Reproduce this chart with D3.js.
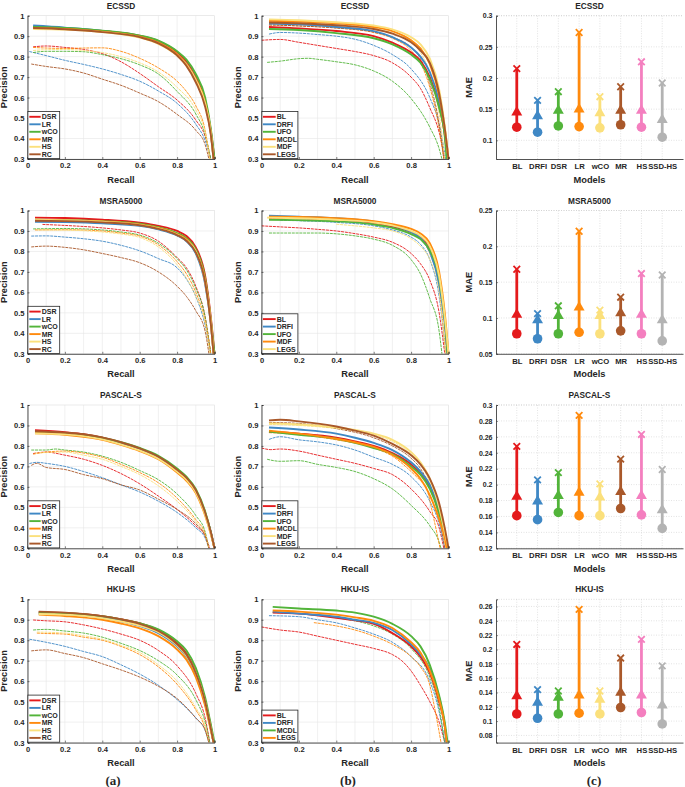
<!DOCTYPE html>
<html><head><meta charset="utf-8">
<script src="https://cdn.jsdelivr.net/npm/d3@7"></script>
<style>body{margin:0;background:#fff}svg{display:block}text{font-family:"Liberation Sans",Arial,sans-serif;font-weight:bold;fill:#262626}</style>
</head><body><svg id="c" width="685" height="787"></svg>
<script>
// ---------------- DATA ----------------
const recallTicks = [0, 0.2, 0.4, 0.6, 0.8, 1];
const precisionTicks = [0.3, 0.4, 0.5, 0.6, 0.7, 0.8, 0.9, 1];
const datasets = ["ECSSD", "MSRA5000", "PASCAL-S", "HKU-IS"];
const legendA = ["DSR", "LR", "wCO", "MR", "HS", "RC"];
const legendB1 = ["BL", "DRFI", "UFO", "MCDL", "MDF", "LEGS"];
const legendB2 = ["BL", "DRFI", "UFO", "MDF", "LEGS"];
const legendB3 = ["BL", "DRFI", "UFO", "MCDL", "MDF", "LEGS"];
const legendB4 = ["BL", "DRFI", "MCDL", "LEGS"];
const models = ["BL", "DRFI", "DSR", "LR", "wCO", "MR", "HS", "SSD-HS"];

// PR curves: [method, [[recall, precision], ...]]  (thick = refined, thin = original)
const ecssdA_thick = [
 ["DSR",[[0.03,0.945],[0.2,0.938],[0.4,0.925],[0.6,0.902],[0.7,0.876],[0.8,0.822],[0.85,0.775],[0.9,0.70],[0.95,0.585],[0.98,0.44],[1.0,0.3]]],
 ["LR",[[0.03,0.952],[0.2,0.942],[0.4,0.926],[0.6,0.898],[0.7,0.868],[0.8,0.81],[0.85,0.765],[0.9,0.69],[0.95,0.57],[0.98,0.43],[0.995,0.3]]],
 ["wCO",[[0.03,0.945],[0.2,0.94],[0.4,0.927],[0.6,0.903],[0.7,0.878],[0.8,0.826],[0.85,0.785],[0.9,0.715],[0.95,0.6],[0.98,0.45],[1.0,0.3]]],
 ["MR",[[0.03,0.94],[0.2,0.935],[0.4,0.922],[0.6,0.897],[0.7,0.868],[0.8,0.812],[0.85,0.765],[0.9,0.69],[0.95,0.575],[0.98,0.43],[0.995,0.3]]],
 ["HS",[[0.03,0.935],[0.2,0.932],[0.4,0.92],[0.6,0.893],[0.7,0.862],[0.8,0.805],[0.85,0.76],[0.9,0.685],[0.95,0.57],[0.98,0.43],[0.995,0.3]]],
 ["RC",[[0.03,0.94],[0.2,0.934],[0.4,0.92],[0.6,0.895],[0.7,0.865],[0.8,0.806],[0.85,0.755],[0.9,0.675],[0.95,0.555],[0.98,0.42],[0.995,0.3]]]
];
const ecssdA_thin = [
 ["DSR",[[0.03,0.848],[0.1,0.852],[0.2,0.845],[0.3,0.835],[0.4,0.815],[0.5,0.775],[0.6,0.718],[0.7,0.653],[0.8,0.588],[0.9,0.49],[0.95,0.41],[0.98,0.3]]],
 ["LR",[[0.01,0.825],[0.1,0.805],[0.2,0.782],[0.3,0.762],[0.4,0.74],[0.5,0.713],[0.6,0.68],[0.7,0.632],[0.8,0.572],[0.9,0.47],[0.95,0.39],[0.98,0.3]]],
 ["wCO",[[0.03,0.82],[0.1,0.826],[0.2,0.826],[0.3,0.824],[0.4,0.81],[0.5,0.79],[0.6,0.76],[0.7,0.715],[0.8,0.63],[0.9,0.52],[0.95,0.42],[0.98,0.3]]],
 ["MR",[[0.03,0.845],[0.1,0.842],[0.2,0.84],[0.3,0.842],[0.4,0.843],[0.5,0.826],[0.6,0.792],[0.7,0.745],[0.8,0.68],[0.85,0.63],[0.9,0.56],[0.95,0.44],[0.975,0.3]]],
 ["HS",[[0.03,0.83],[0.1,0.834],[0.2,0.835],[0.3,0.83],[0.4,0.82],[0.5,0.8],[0.6,0.77],[0.7,0.725],[0.8,0.65],[0.9,0.54],[0.95,0.43],[0.975,0.3]]],
 ["RC",[[0.02,0.764],[0.1,0.752],[0.2,0.74],[0.3,0.72],[0.4,0.69],[0.5,0.66],[0.6,0.622],[0.7,0.58],[0.8,0.518],[0.9,0.44],[0.95,0.37],[0.97,0.3]]]
];
const ecssdB_thick = [
 ["BL",[[0.04,0.945],[0.2,0.938],[0.4,0.925],[0.6,0.9],[0.7,0.868],[0.8,0.82],[0.85,0.78],[0.9,0.70],[0.95,0.56],[0.98,0.42],[0.995,0.3]]],
 ["DRFI",[[0.04,0.962],[0.2,0.958],[0.4,0.945],[0.6,0.925],[0.7,0.895],[0.8,0.845],[0.85,0.8],[0.9,0.725],[0.95,0.58],[0.98,0.43],[0.995,0.3]]],
 ["UFO",[[0.04,0.935],[0.2,0.93],[0.4,0.915],[0.6,0.89],[0.7,0.86],[0.8,0.81],[0.85,0.77],[0.9,0.69],[0.95,0.55],[0.98,0.41],[0.99,0.3]]],
 ["MCDL",[[0.04,0.975],[0.2,0.972],[0.4,0.963],[0.6,0.945],[0.7,0.925],[0.8,0.88],[0.85,0.84],[0.9,0.765],[0.95,0.61],[0.98,0.45],[1.0,0.3]]],
 ["MDF",[[0.04,0.982],[0.2,0.978],[0.4,0.968],[0.6,0.952],[0.7,0.933],[0.8,0.895],[0.85,0.86],[0.9,0.79],[0.95,0.64],[0.98,0.46],[1.0,0.3]]],
 ["LEGS",[[0.04,0.967],[0.2,0.963],[0.4,0.953],[0.6,0.935],[0.7,0.912],[0.8,0.87],[0.85,0.83],[0.9,0.77],[0.95,0.62],[0.98,0.45],[1.0,0.3]]]
];
const ecssdB_thin = [
 ["BL",[[0,0.88],[0.1,0.884],[0.2,0.87],[0.3,0.855],[0.4,0.84],[0.5,0.825],[0.6,0.805],[0.7,0.77],[0.8,0.70],[0.85,0.645],[0.9,0.55],[0.95,0.43],[0.98,0.3]]],
 ["DRFI",[[0.04,0.91],[0.1,0.918],[0.2,0.915],[0.3,0.908],[0.4,0.9],[0.5,0.885],[0.6,0.855],[0.7,0.81],[0.8,0.74],[0.9,0.60],[0.95,0.47],[0.985,0.3]]],
 ["UFO",[[0.03,0.772],[0.1,0.778],[0.2,0.79],[0.25,0.792],[0.3,0.787],[0.4,0.775],[0.5,0.76],[0.6,0.73],[0.7,0.68],[0.8,0.595],[0.9,0.455],[0.95,0.35],[0.965,0.3]]],
 ["MCDL",[[0.04,0.955],[0.2,0.95],[0.4,0.94],[0.6,0.918],[0.7,0.89],[0.8,0.83],[0.85,0.77],[0.9,0.65],[0.95,0.45],[0.975,0.3]]],
 ["MDF",[[0.04,0.97],[0.2,0.965],[0.4,0.955],[0.6,0.94],[0.7,0.915],[0.8,0.87],[0.85,0.82],[0.9,0.72],[0.95,0.52],[0.98,0.3]]],
 ["LEGS",[[0.04,0.955],[0.2,0.95],[0.4,0.94],[0.6,0.92],[0.7,0.895],[0.8,0.845],[0.85,0.79],[0.9,0.67],[0.95,0.47],[0.975,0.3]]]
];
const msraA_thick = [
 ["DSR",[[0.04,0.965],[0.2,0.963],[0.4,0.955],[0.6,0.94],[0.7,0.925],[0.8,0.9],[0.85,0.875],[0.9,0.82],[0.95,0.68],[0.98,0.48],[1.0,0.3]]],
 ["LR",[[0.04,0.945],[0.2,0.943],[0.4,0.937],[0.6,0.925],[0.7,0.908],[0.8,0.878],[0.85,0.85],[0.9,0.79],[0.95,0.64],[0.98,0.45],[0.995,0.3]]],
 ["wCO",[[0.04,0.955],[0.2,0.953],[0.4,0.948],[0.6,0.935],[0.7,0.918],[0.8,0.89],[0.85,0.865],[0.9,0.81],[0.95,0.67],[0.98,0.47],[1.0,0.3]]],
 ["MR",[[0.04,0.955],[0.2,0.952],[0.4,0.946],[0.6,0.932],[0.7,0.915],[0.8,0.885],[0.85,0.86],[0.9,0.8],[0.95,0.66],[0.98,0.46],[0.995,0.3]]],
 ["HS",[[0.04,0.955],[0.2,0.952],[0.4,0.945],[0.6,0.93],[0.7,0.912],[0.8,0.882],[0.85,0.855],[0.9,0.8],[0.95,0.65],[0.98,0.46],[0.995,0.3]]],
 ["RC",[[0.04,0.95],[0.2,0.948],[0.4,0.942],[0.6,0.928],[0.7,0.91],[0.8,0.88],[0.85,0.852],[0.9,0.795],[0.95,0.65],[0.98,0.45],[0.995,0.3]]]
];
const msraA_thin = [
 ["DSR",[[0.08,0.932],[0.2,0.927],[0.4,0.915],[0.5,0.905],[0.6,0.89],[0.7,0.85],[0.8,0.77],[0.85,0.72],[0.9,0.63],[0.95,0.48],[0.98,0.3]]],
 ["LR",[[0.02,0.875],[0.1,0.876],[0.2,0.87],[0.3,0.862],[0.4,0.85],[0.5,0.83],[0.6,0.803],[0.7,0.765],[0.8,0.72],[0.85,0.665],[0.9,0.58],[0.95,0.44],[0.98,0.3]]],
 ["wCO",[[0.03,0.91],[0.2,0.912],[0.4,0.905],[0.5,0.895],[0.6,0.88],[0.7,0.84],[0.8,0.765],[0.85,0.71],[0.9,0.62],[0.95,0.48],[0.98,0.3]]],
 ["MR",[[0.04,0.905],[0.2,0.906],[0.4,0.9],[0.5,0.89],[0.6,0.875],[0.7,0.832],[0.8,0.75],[0.85,0.69],[0.9,0.6],[0.95,0.46],[0.98,0.3]]],
 ["HS",[[0.05,0.905],[0.2,0.904],[0.4,0.895],[0.5,0.885],[0.6,0.868],[0.7,0.822],[0.8,0.735],[0.85,0.67],[0.9,0.58],[0.95,0.45],[0.975,0.3]]],
 ["RC",[[0.02,0.822],[0.1,0.826],[0.2,0.82],[0.3,0.808],[0.4,0.79],[0.5,0.77],[0.6,0.745],[0.7,0.70],[0.8,0.63],[0.85,0.58],[0.9,0.51],[0.95,0.41],[0.97,0.3]]]
];
const msraB_thick = [
 ["BL",[[0.04,0.965],[0.2,0.962],[0.4,0.955],[0.6,0.94],[0.7,0.922],[0.8,0.895],[0.85,0.87],[0.9,0.815],[0.95,0.67],[0.98,0.47],[0.995,0.3]]],
 ["DRFI",[[0.04,0.975],[0.2,0.97],[0.4,0.962],[0.6,0.945],[0.7,0.928],[0.8,0.895],[0.85,0.865],[0.9,0.80],[0.95,0.64],[0.98,0.45],[0.995,0.3]]],
 ["UFO",[[0.04,0.955],[0.2,0.953],[0.4,0.947],[0.6,0.932],[0.7,0.915],[0.8,0.885],[0.85,0.86],[0.9,0.805],[0.95,0.67],[0.98,0.47],[0.995,0.3]]],
 ["MDF",[[0.04,0.97],[0.2,0.968],[0.4,0.962],[0.6,0.948],[0.7,0.933],[0.8,0.91],[0.85,0.888],[0.9,0.84],[0.95,0.7],[0.98,0.5],[1.0,0.3]]],
 ["LEGS",[[0.03,0.965],[0.2,0.962],[0.4,0.955],[0.6,0.942],[0.7,0.927],[0.8,0.9],[0.85,0.877],[0.9,0.825],[0.95,0.68],[0.98,0.48],[1.0,0.3]]]
];
const msraB_thin = [
 ["BL",[[0,0.925],[0.1,0.92],[0.2,0.915],[0.3,0.908],[0.4,0.9],[0.5,0.887],[0.6,0.87],[0.7,0.845],[0.8,0.79],[0.85,0.74],[0.9,0.66],[0.95,0.5],[0.98,0.3]]],
 ["DRFI",[[0.1,0.952],[0.2,0.95],[0.4,0.942],[0.6,0.925],[0.7,0.905],[0.8,0.87],[0.85,0.835],[0.9,0.76],[0.95,0.58],[0.985,0.3]]],
 ["UFO",[[0.04,0.89],[0.2,0.89],[0.3,0.89],[0.4,0.886],[0.5,0.876],[0.6,0.86],[0.7,0.83],[0.8,0.76],[0.85,0.69],[0.9,0.57],[0.95,0.41],[0.965,0.3]]],
 ["MDF",[[0.04,0.962],[0.2,0.96],[0.4,0.953],[0.6,0.938],[0.7,0.92],[0.8,0.89],[0.85,0.862],[0.9,0.79],[0.95,0.62],[0.985,0.3]]],
 ["LEGS",[[0.4,0.933],[0.5,0.925],[0.6,0.915],[0.7,0.9],[0.8,0.862],[0.85,0.825],[0.9,0.76],[0.95,0.6],[0.985,0.3]]]
];
const pascalA_thick = [
 ["DSR",[[0.04,0.877],[0.2,0.867],[0.3,0.858],[0.4,0.84],[0.5,0.815],[0.6,0.785],[0.7,0.745],[0.8,0.68],[0.85,0.64],[0.9,0.58],[0.95,0.47],[0.98,0.38],[1.0,0.3]]],
 ["LR",[[0.04,0.87],[0.2,0.862],[0.3,0.853],[0.4,0.836],[0.5,0.812],[0.6,0.782],[0.7,0.743],[0.8,0.68],[0.85,0.64],[0.9,0.58],[0.95,0.47],[0.98,0.38],[1.0,0.3]]],
 ["wCO",[[0.04,0.868],[0.2,0.862],[0.3,0.855],[0.4,0.84],[0.5,0.818],[0.6,0.79],[0.7,0.752],[0.8,0.69],[0.85,0.65],[0.9,0.59],[0.95,0.48],[0.98,0.38],[1.0,0.3]]],
 ["MR",[[0.04,0.862],[0.2,0.855],[0.3,0.845],[0.4,0.83],[0.5,0.805],[0.6,0.775],[0.7,0.735],[0.8,0.67],[0.85,0.63],[0.9,0.57],[0.95,0.46],[0.98,0.37],[1.0,0.3]]],
 ["HS",[[0.04,0.862],[0.2,0.857],[0.3,0.848],[0.4,0.832],[0.5,0.808],[0.6,0.778],[0.7,0.738],[0.8,0.675],[0.85,0.635],[0.9,0.575],[0.95,0.465],[0.98,0.37],[1.0,0.3]]],
 ["RC",[[0.04,0.872],[0.2,0.865],[0.3,0.857],[0.4,0.842],[0.5,0.818],[0.6,0.788],[0.7,0.748],[0.8,0.684],[0.85,0.645],[0.9,0.585],[0.95,0.475],[0.98,0.38],[1.0,0.3]]]
];
const pascalA_thin = [
 ["DSR",[[0.03,0.763],[0.1,0.77],[0.2,0.755],[0.3,0.735],[0.4,0.705],[0.5,0.665],[0.6,0.615],[0.7,0.555],[0.8,0.49],[0.9,0.41],[0.95,0.36],[0.975,0.3]]],
 ["LR",[[0.01,0.714],[0.05,0.72],[0.1,0.715],[0.2,0.70],[0.3,0.675],[0.4,0.645],[0.5,0.61],[0.6,0.575],[0.7,0.53],[0.8,0.475],[0.9,0.40],[0.95,0.35],[0.97,0.3]]],
 ["wCO",[[0.02,0.78],[0.1,0.78],[0.15,0.785],[0.2,0.78],[0.3,0.77],[0.4,0.75],[0.5,0.72],[0.6,0.68],[0.7,0.635],[0.8,0.565],[0.9,0.46],[0.95,0.38],[0.97,0.3]]],
 ["MR",[[0.03,0.76],[0.1,0.77],[0.2,0.775],[0.3,0.765],[0.4,0.745],[0.5,0.71],[0.6,0.67],[0.7,0.62],[0.8,0.545],[0.9,0.44],[0.95,0.37],[0.97,0.3]]],
 ["HS",[[0.04,0.765],[0.1,0.768],[0.2,0.77],[0.3,0.755],[0.4,0.735],[0.5,0.70],[0.6,0.66],[0.7,0.605],[0.8,0.53],[0.9,0.43],[0.95,0.36],[0.97,0.3]]],
 ["RC",[[0.02,0.705],[0.05,0.715],[0.1,0.695],[0.2,0.685],[0.3,0.66],[0.4,0.64],[0.5,0.61],[0.6,0.585],[0.7,0.54],[0.8,0.49],[0.9,0.42],[0.95,0.36],[0.97,0.3]]]
];
const pascalB_thick = [
 ["BL",[[0.04,0.87],[0.2,0.86],[0.4,0.84],[0.5,0.822],[0.6,0.80],[0.7,0.765],[0.8,0.71],[0.85,0.665],[0.9,0.60],[0.95,0.48],[0.98,0.38],[0.995,0.3]]],
 ["DRFI",[[0.04,0.89],[0.2,0.88],[0.4,0.86],[0.5,0.84],[0.6,0.815],[0.7,0.78],[0.8,0.72],[0.85,0.675],[0.9,0.61],[0.95,0.49],[0.98,0.38],[0.995,0.3]]],
 ["UFO",[[0.04,0.87],[0.2,0.855],[0.4,0.835],[0.5,0.815],[0.6,0.79],[0.7,0.76],[0.8,0.70],[0.85,0.66],[0.9,0.59],[0.95,0.47],[0.98,0.37],[0.995,0.3]]],
 ["MCDL",[[0.04,0.875],[0.2,0.86],[0.4,0.835],[0.5,0.818],[0.6,0.795],[0.7,0.757],[0.8,0.69],[0.85,0.64],[0.9,0.56],[0.95,0.44],[0.98,0.35],[0.99,0.3]]],
 ["MDF",[[0.04,0.91],[0.2,0.905],[0.4,0.89],[0.5,0.878],[0.6,0.86],[0.7,0.83],[0.8,0.77],[0.85,0.72],[0.9,0.64],[0.95,0.5],[0.98,0.38],[1.0,0.3]]],
 ["LEGS",[[0.04,0.925],[0.1,0.928],[0.2,0.92],[0.4,0.895],[0.5,0.875],[0.6,0.85],[0.7,0.81],[0.8,0.755],[0.85,0.71],[0.9,0.64],[0.95,0.52],[0.98,0.4],[1.0,0.3]]]
];
const pascalB_thin = [
 ["BL",[[0,0.79],[0.05,0.782],[0.1,0.785],[0.2,0.775],[0.3,0.755],[0.4,0.735],[0.5,0.715],[0.6,0.69],[0.7,0.66],[0.8,0.59],[0.9,0.48],[0.95,0.40],[0.975,0.3]]],
 ["DRFI",[[0.04,0.832],[0.1,0.845],[0.2,0.83],[0.3,0.82],[0.4,0.805],[0.5,0.78],[0.6,0.745],[0.7,0.71],[0.8,0.65],[0.9,0.53],[0.95,0.42],[0.98,0.3]]],
 ["UFO",[[0.03,0.735],[0.1,0.725],[0.2,0.728],[0.3,0.71],[0.4,0.695],[0.5,0.675],[0.6,0.64],[0.7,0.59],[0.8,0.51],[0.9,0.41],[0.95,0.33],[0.96,0.3]]],
 ["MCDL",[[0.04,0.865],[0.2,0.855],[0.4,0.83],[0.6,0.79],[0.7,0.75],[0.8,0.675],[0.85,0.63],[0.88,0.6],[0.92,0.45],[0.955,0.3]]],
 ["MDF",[[0.04,0.905],[0.2,0.9],[0.4,0.885],[0.6,0.855],[0.7,0.822],[0.8,0.76],[0.85,0.71],[0.9,0.62],[0.95,0.47],[0.985,0.3]]],
 ["LEGS",[[0.04,0.915],[0.2,0.91],[0.4,0.885],[0.6,0.84],[0.7,0.8],[0.8,0.74],[0.85,0.69],[0.9,0.6],[0.95,0.45],[0.98,0.3]]]
];
const hkuA_thick = [
 ["DSR",[[0.06,0.937],[0.2,0.933],[0.4,0.918],[0.5,0.903],[0.6,0.883],[0.7,0.85],[0.8,0.785],[0.85,0.735],[0.9,0.645],[0.95,0.5],[0.98,0.38],[0.995,0.3]]],
 ["LR",[[0.06,0.93],[0.2,0.927],[0.4,0.91],[0.5,0.893],[0.6,0.87],[0.7,0.835],[0.8,0.77],[0.85,0.72],[0.9,0.63],[0.95,0.49],[0.98,0.37],[0.995,0.3]]],
 ["wCO",[[0.06,0.935],[0.2,0.932],[0.4,0.917],[0.5,0.902],[0.6,0.883],[0.7,0.853],[0.8,0.795],[0.85,0.75],[0.9,0.665],[0.95,0.52],[0.98,0.39],[1.0,0.3]]],
 ["MR",[[0.06,0.925],[0.2,0.918],[0.4,0.9],[0.5,0.882],[0.6,0.858],[0.7,0.82],[0.8,0.755],[0.85,0.705],[0.9,0.62],[0.95,0.48],[0.98,0.36],[0.995,0.3]]],
 ["HS",[[0.06,0.928],[0.2,0.925],[0.4,0.908],[0.5,0.892],[0.6,0.872],[0.7,0.84],[0.8,0.775],[0.85,0.725],[0.9,0.64],[0.95,0.5],[0.98,0.37],[0.995,0.3]]],
 ["RC",[[0.06,0.94],[0.2,0.935],[0.4,0.918],[0.5,0.902],[0.6,0.88],[0.7,0.845],[0.8,0.78],[0.85,0.73],[0.9,0.64],[0.95,0.5],[0.98,0.37],[0.995,0.3]]]
];
const hkuA_thin = [
 ["DSR",[[0.03,0.899],[0.1,0.895],[0.2,0.89],[0.3,0.875],[0.4,0.855],[0.5,0.83],[0.6,0.80],[0.7,0.75],[0.8,0.675],[0.9,0.54],[0.95,0.42],[0.975,0.3]]],
 ["LR",[[0.01,0.805],[0.1,0.79],[0.2,0.77],[0.3,0.745],[0.4,0.72],[0.5,0.68],[0.6,0.635],[0.7,0.58],[0.8,0.51],[0.9,0.42],[0.95,0.36],[0.97,0.3]]],
 ["wCO",[[0.03,0.85],[0.1,0.853],[0.2,0.845],[0.3,0.835],[0.4,0.815],[0.5,0.785],[0.6,0.75],[0.7,0.70],[0.8,0.63],[0.9,0.51],[0.95,0.4],[0.975,0.3]]],
 ["MR",[[0.05,0.835],[0.1,0.833],[0.2,0.83],[0.3,0.815],[0.4,0.80],[0.5,0.77],[0.6,0.73],[0.7,0.67],[0.8,0.585],[0.9,0.46],[0.95,0.37],[0.97,0.3]]],
 ["HS",[[0.05,0.84],[0.2,0.835],[0.3,0.822],[0.4,0.805],[0.5,0.775],[0.6,0.74],[0.7,0.68],[0.8,0.60],[0.9,0.47],[0.95,0.38],[0.97,0.3]]],
 ["RC",[[0.02,0.748],[0.1,0.753],[0.2,0.735],[0.3,0.715],[0.4,0.685],[0.5,0.655],[0.6,0.62],[0.7,0.575],[0.8,0.515],[0.9,0.42],[0.95,0.36],[0.97,0.3]]]
];
const hkuB_thick = [
 ["BL",[[0.06,0.935],[0.2,0.93],[0.4,0.91],[0.5,0.897],[0.6,0.88],[0.7,0.835],[0.8,0.77],[0.85,0.72],[0.9,0.64],[0.95,0.5],[0.98,0.38],[0.99,0.3]]],
 ["DRFI",[[0.06,0.94],[0.2,0.93],[0.4,0.915],[0.5,0.9],[0.6,0.885],[0.7,0.85],[0.8,0.78],[0.85,0.73],[0.9,0.66],[0.95,0.52],[0.98,0.38],[0.99,0.3]]],
 ["MCDL",[[0.06,0.963],[0.2,0.955],[0.4,0.945],[0.5,0.935],[0.6,0.915],[0.7,0.88],[0.8,0.82],[0.85,0.77],[0.9,0.68],[0.95,0.53],[0.98,0.4],[0.995,0.3]]],
 ["LEGS",[[0.06,0.945],[0.2,0.94],[0.4,0.925],[0.5,0.912],[0.6,0.895],[0.7,0.86],[0.8,0.79],[0.85,0.74],[0.9,0.65],[0.95,0.51],[0.98,0.38],[0.99,0.3]]]
];
const hkuB_thin = [
 ["BL",[[0,0.865],[0.1,0.85],[0.2,0.84],[0.3,0.82],[0.4,0.80],[0.5,0.78],[0.6,0.76],[0.7,0.73],[0.75,0.70],[0.8,0.65],[0.85,0.58],[0.9,0.50],[0.95,0.40],[0.98,0.3]]],
 ["DRFI",[[0.04,0.92],[0.2,0.915],[0.3,0.9],[0.4,0.885],[0.5,0.86],[0.6,0.83],[0.7,0.79],[0.8,0.72],[0.9,0.6],[0.95,0.45],[0.98,0.3]]],
 ["MCDL",[[0.06,0.935],[0.2,0.93],[0.4,0.91],[0.6,0.87],[0.7,0.83],[0.8,0.76],[0.9,0.62],[0.95,0.47],[0.98,0.3]]],
 ["LEGS",[[0.28,0.886],[0.4,0.87],[0.5,0.85],[0.6,0.82],[0.7,0.78],[0.8,0.72],[0.85,0.67],[0.9,0.58],[0.93,0.45],[0.96,0.3]]]
];

// MAE: max (x marker), mean (triangle), min (circle)
const maeMaxECSSD = [0.215,0.164,0.178,0.273,0.170,0.186,0.226,0.192];
const maeMeanECSSD = [0.146,0.140,0.149,0.151,0.145,0.149,0.149,0.134];
const maeMinECSSD = [0.121,0.113,0.123,0.122,0.120,0.125,0.121,0.105];
const maeMaxMSRA = [0.168,0.106,0.117,0.221,0.111,0.129,0.162,0.160];
const maeMeanMSRA = [0.106,0.098,0.104,0.116,0.104,0.108,0.106,0.098];
const maeMinMSRA = [0.078,0.071,0.078,0.080,0.078,0.082,0.078,0.068];
const maeMaxPASCAL = [0.248,0.206,0.215,0.287,0.201,0.232,0.263,0.219];
const maeMeanPASCAL = [0.186,0.180,0.187,0.191,0.185,0.192,0.187,0.169];
const maeMinPASCAL = [0.161,0.156,0.165,0.161,0.161,0.170,0.162,0.145];
const maeMaxHKU = [0.207,0.144,0.142,0.256,0.142,0.188,0.214,0.177];
const maeMeanHKU = [0.136,0.127,0.134,0.137,0.131,0.141,0.137,0.123];
const maeMinHKU = [0.110,0.104,0.110,0.111,0.110,0.119,0.112,0.096];
const maeTicksECSSD = [0.1,0.15,0.2,0.25,0.3];
const maeTicksMSRA = [0.05,0.1,0.15,0.2,0.25];
const maeTicksPASCAL = [0.12,0.14,0.16,0.18,0.2,0.22,0.24,0.26,0.28,0.3];
const maeTicksHKU = [0.08,0.1,0.12,0.14,0.16,0.18,0.2,0.22,0.24,0.26];

// ---------------- STYLE ----------------
const C = {red:"#e41a1c", blue:"#3f88c5", green:"#52b43a", orange:"#ff8a0d", yellow:"#fbe07c", brown:"#a9582a", pink:"#f47fbf", grey:"#b3b3b3"};
const colA = {DSR:C.red, LR:C.blue, wCO:C.green, MR:C.orange, HS:C.yellow, RC:C.brown};
const colB1 = {BL:C.red, DRFI:C.blue, UFO:C.green, MCDL:C.orange, MDF:C.yellow, LEGS:C.brown};
const colB2 = {BL:C.red, DRFI:C.blue, UFO:C.green, MDF:C.orange, LEGS:C.yellow};
const colB4 = {BL:C.red, DRFI:C.blue, MCDL:C.green, LEGS:C.orange};
const colMAE = [C.red, C.blue, C.green, C.orange, C.yellow, C.brown, C.pink, C.grey];

const svg = d3.select("#c");
const PW = 187, PH = 143.3;
const colX = [27.5, 261.5, 496];
const rowY = [15.7, 210.5, 405, 599.3];
const fmt = d => String(+(+d).toFixed(2));

function prPanel(col, row, title, legendNames, colors, thin, thick) {
  const x0 = colX[col], y0 = rowY[row];
  const x = d3.scaleLinear().domain([0, 1]).range([x0, x0 + PW]);
  const y = d3.scaleLinear().domain([0.3, 1]).range([y0 + PH, y0]);
  const g = svg.append("g");
  // grid
  g.append("g").selectAll("line").data(d3.range(1, 10).map(i => i / 10)).join("line")
    .attr("x1", d => x(d)).attr("x2", d => x(d)).attr("y1", y0).attr("y2", y0 + PH)
    .attr("stroke", "#e6e6e6").attr("stroke-width", 0.6);
  g.append("g").selectAll("line").data(precisionTicks.slice(1, -1)).join("line")
    .attr("x1", x0).attr("x2", x0 + PW).attr("y1", d => y(d)).attr("y2", d => y(d))
    .attr("stroke", "#e6e6e6").attr("stroke-width", 0.6);
  g.append("rect").attr("x", x0).attr("y", y0).attr("width", PW).attr("height", PH)
    .attr("fill", "none").attr("stroke", "#dcdcdc").attr("stroke-width", 0.6);
  // curves
  const line = d3.line().x(d => x(d[0])).y(d => y(d[1])).curve(d3.curveMonotoneX);
  const clip = "clipPR" + col + row;
  svg.append("clipPath").attr("id", clip).append("rect")
    .attr("x", x0).attr("y", y0 - 2).attr("width", PW + 2).attr("height", PH + 2);
  const cg = g.append("g").attr("clip-path", `url(#${clip})`);
  cg.selectAll(".thin").data(thin).join("path").attr("class", "thin")
    .attr("d", d => line(d[1])).attr("fill", "none")
    .attr("stroke", d => colors[d[0]]).attr("stroke-width", 0.9)
    .attr("stroke-dasharray", "3,0.8");
  cg.selectAll(".thick").data(thick).join("path").attr("class", "thick")
    .attr("d", d => line(d[1])).attr("fill", "none")
    .attr("stroke", d => colors[d[0]]).attr("stroke-width", 1.9);
  // axes
  const ax = g.append("g").attr("transform", `translate(0,${y0 + PH})`)
    .call(d3.axisBottom(x).tickValues(recallTicks).tickFormat(fmt).tickSize(-2).tickPadding(4));
  const ay = g.append("g").attr("transform", `translate(${x0},0)`)
    .call(d3.axisLeft(y).tickValues(precisionTicks).tickFormat(fmt).tickSize(-2).tickPadding(3));
  [ax, ay].forEach(a => {
    a.select(".domain").attr("stroke", "#262626").attr("stroke-width", 0.8);
    a.selectAll(".tick line").attr("stroke", "#262626").attr("stroke-width", 0.6);
    a.selectAll("text").attr("font-size", 7.6).attr("fill", "#262626")
      .attr("font-family", '"Liberation Sans",Arial,sans-serif').attr("font-weight", "bold");
  });
  // labels
  g.append("text").attr("x", x0 + PW / 2).attr("y", y0 - 7).attr("text-anchor", "middle")
    .attr("font-size", 8.3).text(title);
  g.append("text").attr("x", x0 + PW / 2).attr("y", y0 + PH + 23.5).attr("text-anchor", "middle")
    .attr("font-size", 9.3).text("Recall");
  g.append("text").attr("transform", `translate(${x0 - 20.5},${y0 + PH / 2}) rotate(-90)`)
    .attr("text-anchor", "middle").attr("font-size", 9.3).text("Precision");
  // legend
  const n = legendNames.length, bw = col === 0 ? 31.8 : 36;
  const ly = i => y0 + PH - 4.7 - (n - 1 - i) * 7.5;
  const lg = g.append("g");
  lg.append("rect").attr("x", x0 + 0.4).attr("y", ly(0) - 5.3).attr("width", bw)
    .attr("height", y0 + PH - (ly(0) - 5.3) - 0.4).attr("fill", "#fff")
    .attr("stroke", "#262626").attr("stroke-width", 0.8);
  const items = lg.selectAll("g").data(legendNames).join("g");
  items.append("line").attr("x1", x0 + (col === 0 ? 1.8 : 1.4)).attr("x2", x0 + (col === 0 ? 13.2 : 14.2))
    .attr("y1", (d, i) => ly(i)).attr("y2", (d, i) => ly(i))
    .attr("stroke", d => colors[d]).attr("stroke-width", 1.9);
  items.append("text").attr("x", x0 + (col === 0 ? 14.2 : 15.2)).attr("y", (d, i) => ly(i) + 2.5)
    .attr("font-size", 7).text(d => d);
}

function maePanel(row, title, domain, ticks, maxV, meanV, minV) {
  const x0 = colX[2], y0 = rowY[row];
  const x = d3.scalePoint().domain(models).range([x0, x0 + PW]).padding(1);
  const y = d3.scaleLinear().domain(domain).range([y0 + PH, y0]);
  const g = svg.append("g");
  g.append("g").selectAll("line").data(ticks).join("line")
    .attr("x1", x0).attr("x2", x0 + PW).attr("y1", d => y(d)).attr("y2", d => y(d))
    .attr("stroke", "#d0d0d0").attr("stroke-width", 0.6).attr("stroke-dasharray", "1,1.5");
  g.append("g").selectAll("line").data(models).join("line")
    .attr("x1", d => x(d)).attr("x2", d => x(d)).attr("y1", y0).attr("y2", y0 + PH)
    .attr("stroke", "#d0d0d0").attr("stroke-width", 0.6).attr("stroke-dasharray", "1,1.5");
  g.append("line").attr("x1", x0).attr("x2", x0 + PW).attr("y1", y0).attr("y2", y0)
    .attr("stroke", "#c8c8c8").attr("stroke-width", 0.6).attr("stroke-dasharray", "1,1.5");
  const idx = models.map((m, i) => i);
  const mg = g.append("g");
  mg.selectAll(".stem").data(idx).join("line")
    .attr("x1", i => x(models[i])).attr("x2", i => x(models[i]))
    .attr("y1", i => y(minV[i])).attr("y2", i => y(maxV[i]))
    .attr("stroke", i => colMAE[i]).attr("stroke-width", 2.8);
  const tri = d3.symbol().type(d3.symbolTriangle).size(52);
  mg.selectAll(".tri").data(idx).join("path")
    .attr("transform", i => `translate(${x(models[i])},${y(meanV[i]) + 0.8})`)
    .attr("d", tri).attr("fill", i => colMAE[i]);
  mg.selectAll(".circ").data(idx).join("circle")
    .attr("cx", i => x(models[i])).attr("cy", i => y(minV[i])).attr("r", 4.8)
    .attr("fill", i => colMAE[i]);
  const s = 3.3;
  mg.selectAll(".xm").data(idx).join("path")
    .attr("transform", i => `translate(${x(models[i])},${y(maxV[i])})`)
    .attr("d", `M${-s},${-s}L${s},${s}M${-s},${s}L${s},${-s}`)
    .attr("stroke", i => colMAE[i]).attr("stroke-width", 1.8).attr("fill", "none");
  const ax = g.append("g").attr("transform", `translate(0,${y0 + PH})`)
    .call(d3.axisBottom(x).tickSize(0).tickPadding(4.5));
  const ay = g.append("g").attr("transform", `translate(${x0},0)`)
    .call(d3.axisLeft(y).tickValues(ticks).tickFormat(fmt).tickSize(-2).tickPadding(3.5));
  [ax, ay].forEach(a => {
    a.select(".domain").attr("stroke", "#404040").attr("stroke-width", 0.9);
    a.selectAll(".tick line").attr("stroke", "#404040").attr("stroke-width", 0.6);
    a.selectAll("text").attr("font-size", 7).attr("fill", "#262626")
      .attr("font-family", '"Liberation Sans",Arial,sans-serif').attr("font-weight", "bold");
  });
  ax.selectAll("text").attr("font-size", 7.7);
  g.append("text").attr("x", x0 + PW / 2).attr("y", y0 - 7).attr("text-anchor", "middle")
    .attr("font-size", 8.3).text(title);
  g.append("text").attr("x", x0 + PW / 2).attr("y", y0 + PH + 23.5).attr("text-anchor", "middle")
    .attr("font-size", 9.3).text("Models");
  g.append("text").attr("transform", `translate(${x0 - 24},${y0 + PH / 2}) rotate(-90)`)
    .attr("text-anchor", "middle").attr("font-size", 9.3).text("MAE");
}

prPanel(0, 0, datasets[0], legendA, colA, ecssdA_thin, ecssdA_thick);
prPanel(1, 0, datasets[0], legendB1, colB1, ecssdB_thin, ecssdB_thick);
prPanel(0, 1, datasets[1], legendA, colA, msraA_thin, msraA_thick);
prPanel(1, 1, datasets[1], legendB2, colB2, msraB_thin, msraB_thick);
prPanel(0, 2, datasets[2], legendA, colA, pascalA_thin, pascalA_thick);
prPanel(1, 2, datasets[2], legendB3, colB1, pascalB_thin, pascalB_thick);
prPanel(0, 3, datasets[3], legendA, colA, hkuA_thin, hkuA_thick);
prPanel(1, 3, datasets[3], legendB4, colB4, hkuB_thin, hkuB_thick);
maePanel(0, datasets[0], [0.07, 0.3], maeTicksECSSD, maeMaxECSSD, maeMeanECSSD, maeMinECSSD);
maePanel(1, datasets[1], [0.05, 0.25], maeTicksMSRA, maeMaxMSRA, maeMeanMSRA, maeMinMSRA);
maePanel(2, datasets[2], [0.12, 0.3], maeTicksPASCAL, maeMaxPASCAL, maeMeanPASCAL, maeMinPASCAL);
maePanel(3, datasets[3], [0.07, 0.27], maeTicksHKU, maeMaxHKU, maeMeanHKU, maeMinHKU);

const sub = ["(a)", "(b)", "(c)"];
svg.selectAll(".sub").data(sub).join("text").attr("class", "sub")
  .attr("x", (d, i) => [113, 348, 594][i]).attr("y", 784.5).attr("text-anchor", "middle")
  .attr("font-size", 13).attr("font-weight", "bold")
  .style("font-family", '"Liberation Serif","Times New Roman",serif')
  .text(d => d);
</script></body></html>
